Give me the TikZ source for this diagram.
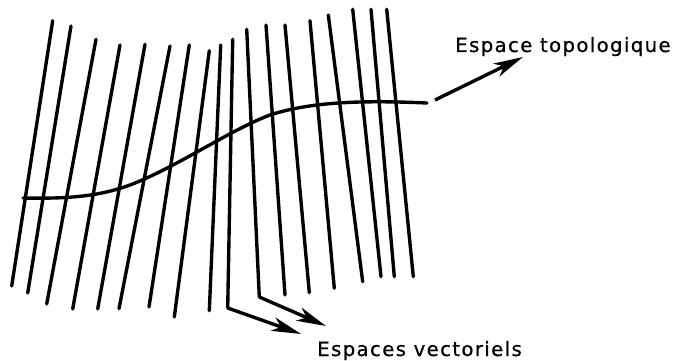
\documentclass[tikz,border=0pt]{standalone}
\usepackage{fontspec}
\setmainfont{DejaVu Sans}
\newfontfamily\legende[LetterSpace=7, FakeBold=0.6]{DejaVu Sans}
\usetikzlibrary{arrows.meta}
\begin{document}
\begin{tikzpicture}[x=0.025cm, y=-0.025cm,
  fibre/.style={line width=2.4pt, line cap=round},
  fleche/.style={line width=2.4pt, -{Stealth[length=21pt, width=10pt, inset=6pt]}},
  etiquette/.style={font=\legende\fontsize{14}{16}\selectfont, anchor=base west, inner sep=0pt}]
  \useasboundingbox (0,0) rectangle (678,361);
  % les fibres (espaces vectoriels)
  \foreach \xa/\ya/\xb/\yb [count=\i] in {52.7/20.7/11.7/286, 71/26/27.7/293, 96/39.3/46.7/304, 120/45/72.7/309,
      145/44.3/97.7/309, 170/46/119/308.7, 189.3/45/149/307, 209.3/50.7/174.3/317, 220.7/45/209.3/310.7,
      232.7/39.3/227.7/308, 246.7/29.3/259.3/297, 266/25/285/295, 285/25/309.3/292.7, 310/20.7/334.3/288.3,
      328.3/15/362.7/281.7, 352.7/9.3/381/276.7, 371/9.3/394.3/276.7, 386.7/9.3/413.3/276.7}
    {\coordinate (h\i) at (\xa,\ya); \coordinate (b\i) at (\xb,\yb); \draw[fibre] (h\i) -- (b\i);}
  % la base
  \coordinate (c0) at (23,198); \coordinate (c1) at (427,103);
  \draw[fibre] (c0) .. controls (70,199) and (100,196) .. (130,185) .. controls (175,168) and (230,130) .. (270,115)
    .. controls (310,102) and (360,100) .. (c1);
  % legendes
  \node[etiquette] (topo) at (455,52) {Espace topologique};
  \node[etiquette] (vect) at (317,356) {Espaces vectoriels};
  \coordinate (t0) at (435,100); \coordinate (t1) at (523,57);
  \coordinate (v1) at (301,334); \coordinate (v2) at (326,326);
  \draw[fleche] (t0) -- (t1);
  \draw[fleche] (b10) -- (v1);
  \draw[fleche] (b11) -- (v2);
\end{tikzpicture}
\end{document}
